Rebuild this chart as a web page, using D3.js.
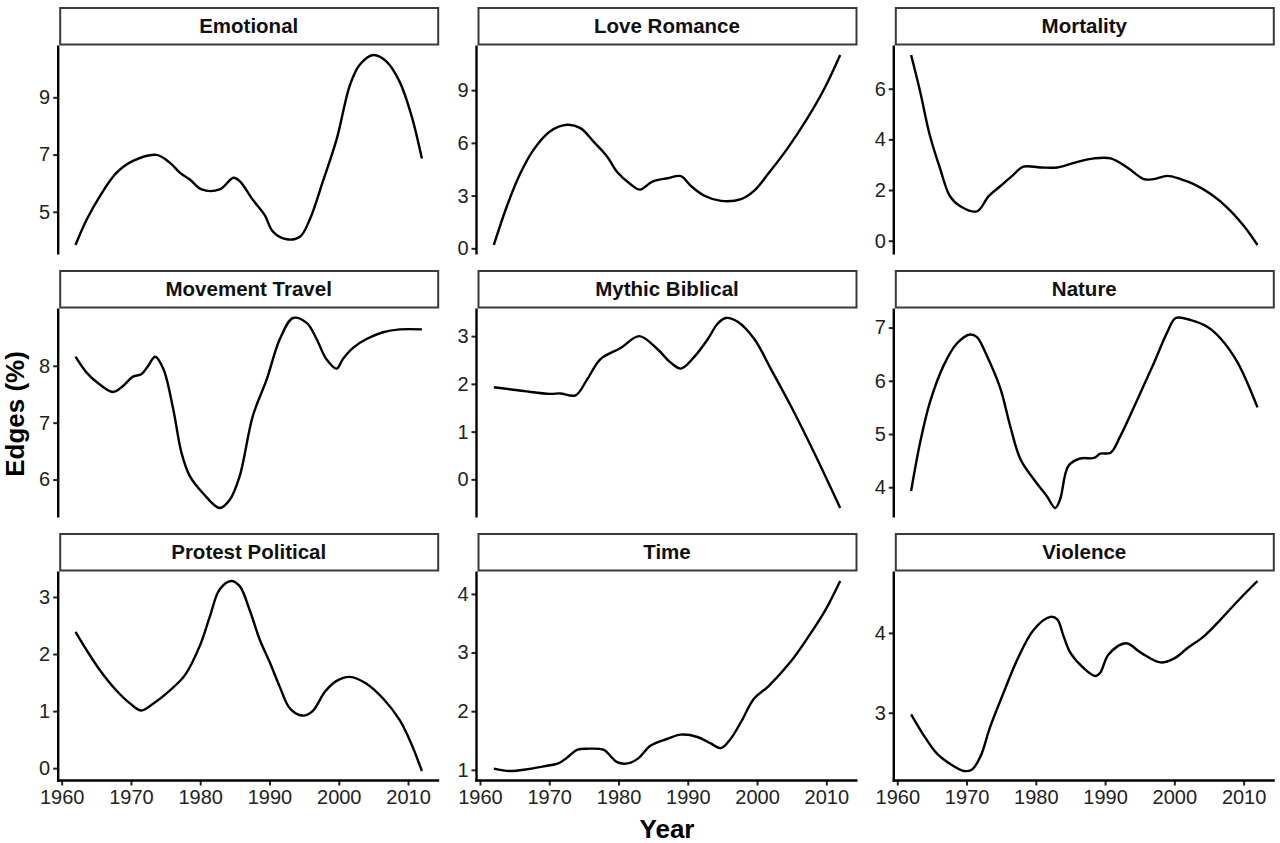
<!DOCTYPE html>
<html>
<head>
<meta charset="utf-8">
<script src="https://cdn.jsdelivr.net/npm/d3@7"></script>
<style>
  html, body { margin: 0; padding: 0; background: #fff; }
  text { font-family: "Liberation Sans", Arial, sans-serif; }
</style>
</head>
<body>
<div id="chart"></div>
<script>
const width = 1280,
      height = 843;

// panel titles, in facet order
const panels = [
  'Emotional', 'Love Romance', 'Mortality',
  'Movement Travel', 'Mythic Biblical', 'Nature',
  'Protest Political', 'Time', 'Violence'
];

// smoothed curves, [year, edges %]
const emotional = [[1962,3.84],[1963.6,4.72],[1965.5,5.54],[1967.9,6.36],[1970.3,6.78],[1973.7,6.99],[1975.6,6.72],[1977.1,6.36],[1978.5,6.13],[1980.2,5.78],[1982.8,5.78],[1984.8,6.19],[1985.7,6.07],[1987.6,5.42],[1989.3,4.89],[1990.5,4.31],[1992.5,4.04],[1994.4,4.13],[1995.8,4.72],[1997.8,6.13],[1999.7,7.54],[2001.6,9.42],[2003,10.13],[2005,10.48],[2006.9,10.25],[2008.8,9.54],[2010.5,8.36],[2012,6.86]];
const loveRomance = [[1962,0.19],[1963.9,2.41],[1965.8,4.24],[1967.7,5.59],[1970.1,6.65],[1972.6,7.03],[1974.5,6.84],[1976.4,6.07],[1978.4,5.2],[1979.8,4.34],[1981.7,3.66],[1983.1,3.34],[1984.9,3.8],[1987.1,3.99],[1989,4.11],[1990.4,3.57],[1992.4,2.99],[1994.8,2.7],[1997.7,2.8],[1999.6,3.28],[2001.6,4.24],[2004.4,5.69],[2007.3,7.42],[2009.8,9.15],[2012,11.0]];
const mortality = [[1962,7.33],[1963.3,5.89],[1964.7,4.16],[1966.2,2.83],[1967.6,1.76],[1969.1,1.36],[1971.5,1.16],[1973.2,1.76],[1974.9,2.16],[1976.6,2.56],[1978.2,2.92],[1980.7,2.89],[1983.1,2.89],[1985.5,3.07],[1988.4,3.25],[1990.8,3.25],[1993.2,2.89],[1995.6,2.43],[1997,2.43],[1999,2.56],[2000.9,2.43],[2002.8,2.23],[2005.3,1.83],[2007.7,1.29],[2010.1,0.56],[2012,-0.17]];
const movementTravel = [[1962,8.16],[1963.6,7.88],[1965.1,7.71],[1967.4,7.54],[1968.9,7.65],[1970.3,7.81],[1971.5,7.85],[1972.5,8.0],[1973.5,8.16],[1974.7,7.94],[1976.1,7.24],[1977.3,6.47],[1978.5,6.06],[1980.4,5.76],[1982.8,5.5],[1984.3,5.65],[1985.7,6.06],[1987.6,7.12],[1989.6,7.76],[1991.5,8.47],[1993.4,8.84],[1995.4,8.75],[1996.8,8.47],[1998.2,8.12],[1999.7,7.95],[2000.6,8.12],[2002.1,8.32],[2004,8.47],[2006.4,8.59],[2008.8,8.64],[2012,8.64]];
const mythicBiblical = [[1962,1.93],[1966.3,1.85],[1970.1,1.79],[1971.6,1.8],[1973.8,1.76],[1975.5,2.1],[1977.4,2.52],[1980.3,2.75],[1983,3.0],[1985.6,2.73],[1987.5,2.45],[1989,2.32],[1990.9,2.56],[1992.9,2.94],[1994.3,3.26],[1995.5,3.38],[1997.2,3.3],[1999.6,2.94],[2002,2.31],[2004.9,1.53],[2008.3,0.54],[2012,-0.6]];
const nature = [[1962,3.93],[1963.3,4.84],[1964.7,5.59],[1966.7,6.29],[1968.6,6.7],[1970.5,6.87],[1971.5,6.82],[1972.9,6.48],[1974.9,5.85],[1976.3,5.15],[1977.8,4.52],[1979.7,4.15],[1981.6,3.83],[1982.8,3.61],[1983.5,3.77],[1984.7,4.4],[1986.4,4.54],[1988.4,4.55],[1989.3,4.63],[1990.8,4.65],[1992.2,4.96],[1994.7,5.66],[1997.1,6.35],[1999,6.92],[2000.2,7.18],[2002.4,7.14],[2004.8,7.01],[2006.7,6.79],[2009.1,6.35],[2012,5.5]];
const protestPolitical = [[1962,2.39],[1963.6,2.07],[1965.5,1.72],[1967.9,1.36],[1969.9,1.13],[1971.5,1.01],[1973.2,1.13],[1975.6,1.36],[1977.8,1.63],[1980,2.16],[1981.4,2.66],[1982.8,3.13],[1984.5,3.28],[1985.7,3.19],[1987.2,2.75],[1988.6,2.25],[1990.1,1.84],[1991.5,1.42],[1993,1.04],[1994.9,0.92],[1996.3,1.01],[1998,1.34],[1999.7,1.53],[2001.6,1.6],[2004,1.48],[2006.4,1.22],[2008.8,0.84],[2010.5,0.42],[2012,-0.05]];
const time = [[1962,1.02],[1964.3,0.98],[1966.8,1.01],[1969.2,1.06],[1971.3,1.11],[1972.6,1.21],[1974,1.34],[1975.5,1.36],[1977.9,1.34],[1978.8,1.24],[1979.8,1.13],[1981.3,1.11],[1982.9,1.2],[1984.6,1.41],[1987.1,1.53],[1989,1.6],[1991.4,1.56],[1993.3,1.45],[1994.8,1.37],[1996.2,1.53],[1997.7,1.82],[1999.6,2.22],[2001.6,2.42],[2004.9,2.85],[2007.3,3.25],[2009.8,3.71],[2012,4.22]];
const violence = [[1962,2.98],[1963.8,2.72],[1965.7,2.49],[1967.6,2.36],[1969.6,2.27],[1970.8,2.29],[1972,2.45],[1973.4,2.82],[1975.3,3.24],[1977.3,3.66],[1979.7,4.04],[1982.1,4.2],[1983.1,4.17],[1984,3.96],[1985,3.75],[1986.9,3.56],[1988.6,3.46],[1989.3,3.5],[1990.5,3.73],[1993,3.87],[1995.2,3.75],[1998,3.63],[2000,3.68],[2001.9,3.81],[2004.3,3.96],[2006.7,4.17],[2009.6,4.44],[2012,4.65]];

const series = [emotional, loveRomance, mortality, movementTravel, mythicBiblical,
                nature, protestPolitical, time, violence];

// y tick labels for each panel
const yTicks = [
  [5, 7, 9], [0, 3, 6, 9], [0, 2, 4, 6],
  [6, 7, 8], [0, 1, 2, 3], [4, 5, 6, 7],
  [0, 1, 2, 3], [1, 2, 3, 4], [3, 4]
];
const xTicks = [1960, 1970, 1980, 1990, 2000, 2010];

// layout
const colLeft = [58.2, 476.5, 893.8],
      panelW = 381,
      rowTop = [7, 270, 533],
      stripH = 38.5,
      plotH = 209;

const tickFont = 20,
      stripFont = 20.5,
      titleFont = 26;

// ggplot-like 5% expansion
function expand(ext) {
  const pad = (ext[1] - ext[0]) * 0.05;
  return [ext[0] - pad, ext[1] + pad];
}

const svg = d3.select("#chart").append("svg")
  .attr("width", width)
  .attr("height", height)
  .style("background", "#fff");

const allYears = series.flat().map(d => d[0]);
const xDomain = expand(d3.extent(allYears));

panels.forEach((name, i) => {
  const col = i % 3, row = Math.floor(i / 3);
  const x0 = colLeft[col], top = rowTop[row];
  const plotTop = top + stripH;
  const data = series[i];

  const x = d3.scaleLinear().domain(xDomain).range([x0, x0 + panelW]);
  const y = d3.scaleLinear()
    .domain(expand(d3.extent(data, d => d[1])))
    .range([plotTop + plotH, plotTop]);

  const g = svg.append("g").attr("class", "panel");

  // strip
  g.append("rect")
    .attr("x", x0 + 2).attr("y", top + 1)
    .attr("width", panelW - 3).attr("height", stripH - 2)
    .attr("fill", "#fff")
    .attr("stroke", "#3a3a3a")
    .attr("stroke-width", 2);
  g.append("text")
    .attr("x", x0 + panelW / 2)
    .attr("y", top + stripH / 2)
    .attr("dy", "0.35em")
    .attr("text-anchor", "middle")
    .attr("font-size", stripFont)
    .attr("font-weight", "bold")
    .attr("fill", "#111")
    .text(name);

  // y axis
  const yAxis = g.append("g")
    .attr("transform", `translate(${x0},0)`)
    .call(d3.axisLeft(y).tickValues(yTicks[i]).tickSize(5).tickPadding(3).tickFormat(d3.format("d")));
  yAxis.select(".domain").remove();
  yAxis.selectAll(".tick line").attr("stroke", "#222").attr("stroke-width", 2);
  yAxis.selectAll(".tick text")
    .attr("font-size", tickFont)
    .attr("font-family", '"Liberation Sans", Arial, sans-serif')
    .attr("fill", "#222");
  g.append("line")
    .attr("x1", x0).attr("x2", x0)
    .attr("y1", plotTop).attr("y2", plotTop + plotH + (row === 2 ? 1.2 : 0))
    .attr("stroke", "#000").attr("stroke-width", 2.4);

  // x axis on the bottom row only
  if (row === 2) {
    const xAxis = g.append("g")
      .attr("transform", `translate(0,${plotTop + plotH})`)
      .call(d3.axisBottom(x).tickValues(xTicks).tickSize(5).tickPadding(4).tickFormat(d3.format("d")));
    xAxis.select(".domain").remove();
    xAxis.selectAll(".tick line").attr("stroke", "#222").attr("stroke-width", 2);
    xAxis.selectAll(".tick text")
      .attr("font-size", tickFont)
      .attr("font-family", '"Liberation Sans", Arial, sans-serif')
      .attr("fill", "#222");
    g.append("line")
      .attr("x1", x0 - 1.2).attr("x2", x0 + panelW)
      .attr("y1", plotTop + plotH).attr("y2", plotTop + plotH)
      .attr("stroke", "#000").attr("stroke-width", 2.4);
  }

  // smoothed curve
  g.append("path")
    .datum(data)
    .attr("fill", "none")
    .attr("stroke", "#000")
    .attr("stroke-width", 2.4)
    .attr("stroke-linejoin", "round")
    .attr("d", d3.line()
      .x(d => x(d[0]))
      .y(d => y(d[1]))
      .curve(d3.curveCatmullRom.alpha(0.5)));
});

// axis titles
svg.append("text")
  .attr("transform", `translate(15,414) rotate(-90)`)
  .attr("text-anchor", "middle")
  .attr("dy", "0.35em")
  .attr("font-size", titleFont)
  .attr("font-weight", "bold")
  .text("Edges (%)");

svg.append("text")
  .attr("x", 667)
  .attr("y", 829)
  .attr("text-anchor", "middle")
  .attr("dy", "0.35em")
  .attr("font-size", titleFont)
  .attr("font-weight", "bold")
  .text("Year");
</script>
</body>
</html>
